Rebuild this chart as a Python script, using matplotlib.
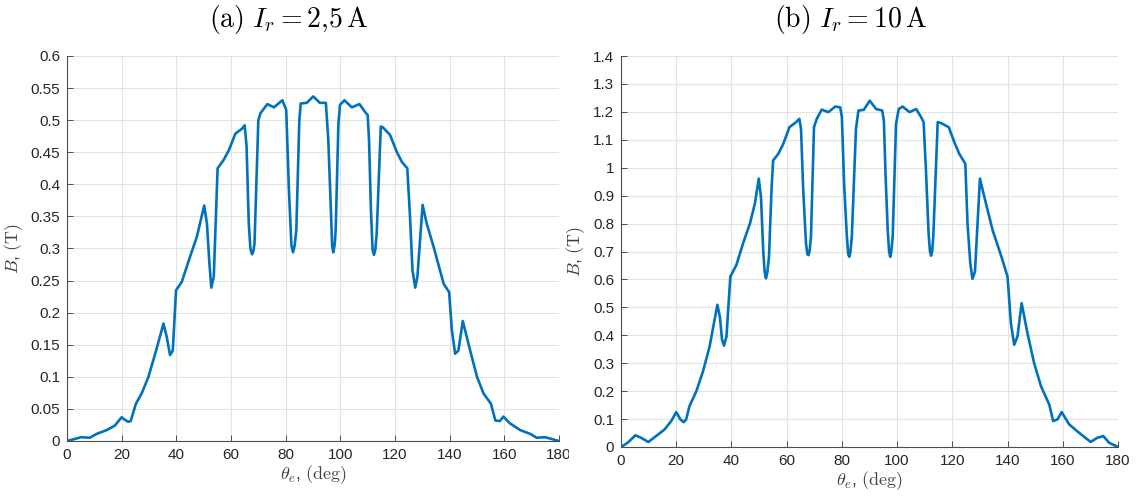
import numpy as np
import matplotlib.pyplot as plt
from matplotlib.ticker import FuncFormatter
from matplotlib.patches import Rectangle

plt.rcParams['mathtext.fontset'] = 'cm'
plt.rcParams['font.family'] = 'Liberation Sans'

# (a) I_r = 2,5 A
theta_a = [0, 5.3, 8.3, 10.8, 14.5, 17.5, 20, 21.2, 22.4, 23.3, 25.2, 27.3, 29.8, 32.8, 35.3,
           36.5, 37.7, 38.7, 39.9, 42, 45, 47.5, 50.2, 51.2, 52.1, 52.8, 53.7, 55.1, 57.3,
           59.2, 61.6, 64.1, 65, 65.7, 66.5, 67.1, 67.7, 68.2, 68.6, 70, 70.8, 73.3, 75.7,
           78.8, 80.2, 81.2, 82.1, 82.7, 83.3, 83.9, 85, 85.5, 87.7, 90.1, 92.5, 94.7, 95.6,
           96.5, 97.0, 97.4, 97.9, 98.3, 99.3, 99.9, 101.5, 104.2, 107, 109, 110, 110.5,
           111.2, 111.8, 112.3, 112.8, 113.3, 114.8, 115.5, 118.2, 120.6, 122.5, 124.5,
           125.5, 126.4, 127.4, 128.2, 130.1, 131.6, 134.1, 137.8, 139.8, 140.8, 142,
           143.2, 144.8, 147.5, 150, 152.4, 155.1, 156.7, 158.3, 159.7, 161.9, 165.8,
           169.5, 171.9, 174.8, 180]
b_a = [0, 0.006, 0.005, 0.011, 0.017, 0.024, 0.037, 0.033, 0.030, 0.031, 0.058, 0.074, 0.1,
       0.144, 0.183, 0.162, 0.134, 0.141, 0.235, 0.248, 0.287, 0.318, 0.367, 0.339, 0.277,
       0.239, 0.256, 0.425, 0.438, 0.453, 0.479, 0.487, 0.492, 0.459, 0.339, 0.300, 0.291,
       0.296, 0.308, 0.5, 0.511, 0.525, 0.52, 0.531, 0.516, 0.391, 0.305, 0.294, 0.305,
       0.329, 0.5, 0.526, 0.527, 0.537, 0.527, 0.527, 0.469, 0.365, 0.305, 0.294, 0.305,
       0.329, 0.495, 0.524, 0.531, 0.52, 0.525, 0.513, 0.508, 0.469, 0.36, 0.298, 0.29,
       0.298, 0.323, 0.49, 0.489, 0.477, 0.451, 0.435, 0.425, 0.349, 0.266, 0.239, 0.256,
       0.368, 0.339, 0.303, 0.245, 0.232, 0.173, 0.136, 0.141, 0.187, 0.141, 0.1, 0.074,
       0.058, 0.032, 0.031, 0.038, 0.028, 0.017, 0.011, 0.005, 0.006, 0]

# (b) I_r = 10 A
theta_b = [0, 2.4, 5.2, 7.3, 9.9, 12.7, 15.8, 18.2, 20, 21.5, 22.7, 23.6, 24.8, 27.3, 29.7,
           32.1, 34.9, 35.8, 36.6, 37.3, 38.2, 39.6, 41.8, 44.2, 46.7, 48.5, 49.9, 50.7,
           51.5, 52.0, 52.5, 53.0, 53.6, 54.5, 55.1, 57, 58.8, 61, 63.4, 64.6, 65.2, 66,
           67, 67.5, 67.9, 68.3, 68.8, 69.9, 70.9, 72.7, 75.1, 77.6, 79.4, 80, 80.8, 81.8,
           82.3, 82.7, 83.1, 83.6, 85.1, 86, 87.9, 90.1, 92.4, 94.6, 95.2, 95.8, 96.6, 97.1,
           97.5, 97.9, 98.4, 99.6, 100.6, 102, 104.5, 106.9, 108.7, 109.6, 110.5, 111.4,
           111.9, 112.3, 112.7, 113.1, 114.7, 115.9, 118.7, 120.7, 122.5, 124.7, 125.5,
           126.5, 127.3, 128.2, 130, 131.6, 134.6, 137.6, 140, 141.2, 142.4, 143.6, 145.1,
           147.2, 149.6, 152.1, 155.1, 156.5, 158.1, 159.6, 162.3, 165.9, 170.1, 172.5,
           174.7, 176.8, 180]
b_b = [0, 0.015, 0.042, 0.033, 0.018, 0.039, 0.063, 0.093, 0.125, 0.099, 0.089, 0.099, 0.146,
       0.2, 0.271, 0.36, 0.509, 0.467, 0.384, 0.363, 0.396, 0.61, 0.652, 0.729, 0.8, 0.872,
       0.961, 0.895, 0.705, 0.630, 0.604, 0.625, 0.681, 0.919, 1.026, 1.05, 1.086, 1.145,
       1.163, 1.175, 1.139, 0.919, 0.729, 0.690, 0.687, 0.700, 0.753, 1.145, 1.175, 1.208,
       1.199, 1.219, 1.216, 1.181, 0.943, 0.753, 0.690, 0.681, 0.700, 0.753, 1.139, 1.205,
       1.207, 1.24, 1.21, 1.205, 1.169, 0.979, 0.776, 0.700, 0.681, 0.700, 0.753, 1.157,
       1.21, 1.219, 1.199, 1.21, 1.181, 1.163, 0.979, 0.765, 0.700, 0.685, 0.700, 0.753,
       1.163, 1.16, 1.145, 1.092, 1.05, 1.014, 0.8, 0.658, 0.602, 0.628, 0.961, 0.895,
       0.776, 0.687, 0.61, 0.444, 0.366, 0.396, 0.515, 0.408, 0.301, 0.218, 0.152, 0.093,
       0.099, 0.125, 0.081, 0.051, 0.018, 0.033, 0.039, 0.015, 0]

x_ticks = list(range(0, 181, 20))
y_ticks_a = [round(0.05 * i, 2) for i in range(13)]
y_ticks_b = [round(0.1 * i, 1) for i in range(15)]

W, H = 1137, 496
fig = plt.figure(figsize=(W / 100, H / 100), dpi=100)
ax_a = fig.add_axes([67 / W, 55 / H, (559 - 67) / W, (441 - 56) / H])
ax_b = fig.add_axes([621 / W, 49 / H, (1118 - 621) / W, (447 - 56) / H])

line_color = '#0072BD'
fmt = FuncFormatter(lambda v, p: '%g' % v)

for ax, th, b, yt in [(ax_a, theta_a, b_a, y_ticks_a), (ax_b, theta_b, b_b, y_ticks_b)]:
    ax.plot(th, b, color=line_color, lw=1.9, solid_joinstyle='round')
    ax.set_xlim(0, 180)
    ax.set_ylim(yt[0], yt[-1])
    ax.set_xticks(x_ticks)
    ax.set_yticks(yt)
    ax.yaxis.set_major_formatter(fmt)
    ax.grid(True, color='#e3e3e3', lw=0.8)
    ax.set_axisbelow(True)
    for s in ['top', 'right']:
        ax.spines[s].set_visible(False)
    for s in ['left', 'bottom']:
        ax.spines[s].set_color('#4d4d4d')
        ax.spines[s].set_linewidth(0.8)
    ax.tick_params(direction='in', length=4, width=0.7, color='#4d4d4d',
                   labelsize=11, labelcolor='#262626', pad=5)
    ax.set_xlabel(r'$\theta_e$, $\mathrm{(deg)}$', fontsize=13, labelpad=1, color='#404040')
    ax.set_ylabel(r'$B$, $\mathrm{(T)}$', fontsize=13, labelpad=4, color='#404040')

# the right panel hides the end of the left "180" label
fig.patches.append(Rectangle((569 / W, (H - 472) / H), 28 / W, 24 / H,
                             transform=fig.transFigure, facecolor='white',
                             edgecolor='none', zorder=5))

fig.text(289 / W, 1 - 19 / H, r'$\mathrm{(a)}\ I_r = 2{,}5\,\mathrm{A}$', fontsize=20,
         ha='center', va='center')
fig.text(850 / W, 1 - 19 / H, r'$\mathrm{(b)}\ I_r = 10\,\mathrm{A}$', fontsize=20,
         ha='center', va='center')

fig.savefig('out.png', dpi=100)
